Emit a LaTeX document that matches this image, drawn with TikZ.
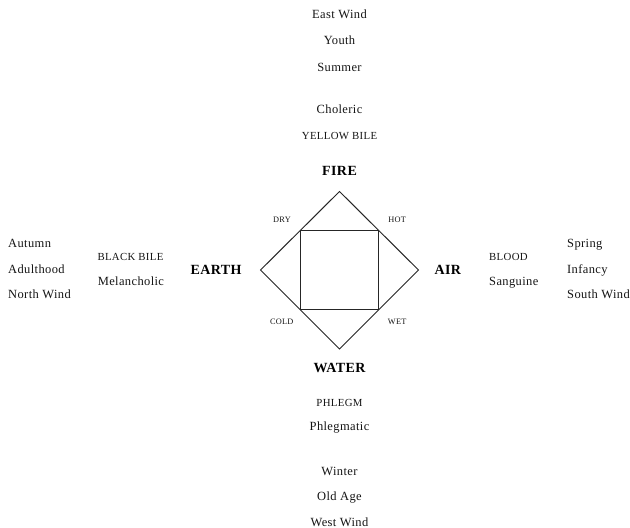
\documentclass[tikz,border=0pt]{standalone}
\usepackage{fontspec}
\setmainfont{Liberation Serif}[LetterSpace=3]
\begin{document}
\begin{tikzpicture}[x=1bp,y=-1bp,
  txt/.style={inner sep=0pt,anchor=base,text=black!92,font=\fontsize{12.5bp}{14bp}\selectfont},
  txtw/.style={txt,anchor=base west},
  caps/.style={inner sep=0pt,anchor=base,text=black!92,font=\fontsize{10.8bp}{12bp}\selectfont},
  capsw/.style={caps,anchor=base west},
  elem/.style={inner sep=0pt,anchor=base,text=black,font=\bfseries\fontsize{14bp}{16bp}\selectfont},
  qual/.style={inner sep=0pt,anchor=base,text=black!92,font=\fontsize{8.3bp}{10bp}\selectfont},
  edge/.style={draw=black!85,line width=1bp,line join=miter}]
\useasboundingbox (0,0) rectangle (630,528);
% diamond and square
\coordinate (T) at (339.5,191.5);
\coordinate (L) at (260.5,270);
\coordinate (R) at (418.5,270);
\coordinate (B) at (339.5,349);
\coordinate (sTL) at (300.5,230.7);
\coordinate (sTR) at (378.5,230.7);
\coordinate (sBL) at (300.5,309.5);
\coordinate (sBR) at (378.5,309.5);
\draw[edge] (T) -- (R) -- (B) -- (L) -- cycle;
\draw[edge] (sTL) -- (sTR) -- (sBR) -- (sBL) -- cycle;
% elements
\node[elem] (fire) at (339.5,176) {FIRE};
\node[elem] (water) at (339.5,372.7) {WATER};
\node[elem,anchor=base east] (earth) at (241.7,274.3) {EARTH};
\node[elem,anchor=base west] (air) at (434.3,274.3) {AIR};
% qualities
\node[qual] (dry) at (282,222.3) {DRY};
\node[qual] (hot) at (397.2,222.3) {HOT};
\node[qual] (cold) at (281.7,324) {COLD};
\node[qual] (wet) at (397.2,324) {WET};
% top
\node[txt] (east) at (339.5,18.5) {East Wind};
\node[txt] (youth) at (339.5,45) {Youth};
\node[txt] (summer) at (339.5,71.5) {Summer};
\node[txt] (choleric) at (339.5,113.5) {Choleric};
\node[caps] (yellow) at (339.5,139.5) {YELLOW BILE};
% bottom
\node[caps] (phlegm) at (339.5,406) {PHLEGM};
\node[txt] (phlegmatic) at (339.5,430) {Phlegmatic};
\node[txt] (winter) at (339.5,475) {Winter};
\node[txt] (oldage) at (339.5,500.7) {Old Age};
\node[txt] (west) at (339.5,526.5) {West Wind};
% left
\node[txtw] (autumn) at (8,247.3) {Autumn};
\node[txtw] (adult) at (8,273.3) {Adulthood};
\node[txtw] (north) at (8,298.3) {North Wind};
\node[capsw] (black) at (97.3,260.7) {BLACK BILE};
\node[txtw] (melan) at (97.6,285) {Melancholic};
% right
\node[capsw] (blood) at (489,260.7) {BLOOD};
\node[txtw] (sang) at (489,285) {Sanguine};
\node[txtw] (spring) at (567,247.3) {Spring};
\node[txtw] (infancy) at (567,273.3) {Infancy};
\node[txtw] (south) at (567,298.3) {South Wind};
\end{tikzpicture}
\end{document}
